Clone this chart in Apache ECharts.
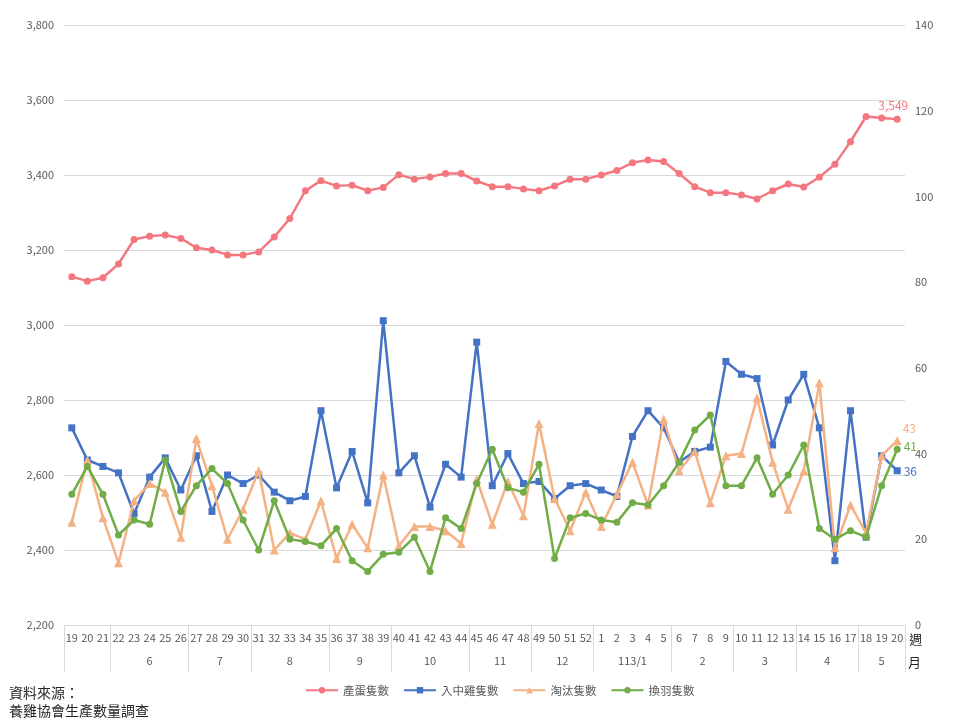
<!DOCTYPE html>
<html lang="zh-TW">
<head>
  <meta charset="UTF-8">
  <title>產蛋、入中雞、淘汰、換羽隻數</title>
  <script src="https://cdn.jsdelivr.net/npm/echarts@6/dist/echarts.min.js"></script>
  <style>
    html, body { margin: 0; padding: 0; width: 100%; height: 100%; background: #fff; }
    #chart { width: 960px; height: 720px; }
  </style>
</head>
<body>
  <div id="chart"></div>
  <script>
    // 週次 (112年第19週 ~ 113年第20週)
    const weeks = ['19','20','21','22','23','24','25','26','27','28','29','30','31','32','33','34','35','36',
      '37','38','39','40','41','42','43','44','45','46','47','48','49','50','51','52',
      '1','2','3','4','5','6','7','8','9','10','11','12','13','14','15','16','17','18','19','20'];
    // 月份分組
    const monthNames = ['', '6', '7', '8', '9', '10', '11', '12', '113/1', '2', '3', '4', '5'];
    const monthSpans = [3, 5, 4, 5, 4, 5, 4, 4, 5, 4, 4, 4, 3];

    // 產蛋隻數 (左軸)
    const eggs = [3129, 3117, 3126, 3163, 3228, 3237, 3240, 3231, 3206, 3200,
      3187, 3187, 3195, 3235, 3284, 3358, 3385, 3371, 3373, 3358,
      3367, 3401, 3389, 3395, 3404, 3404, 3384, 3369, 3369, 3363,
      3358, 3371, 3389, 3389, 3400, 3412, 3433, 3440, 3436, 3404,
      3369, 3353, 3353, 3347, 3336, 3358, 3376, 3368, 3394, 3429,
      3489, 3556, 3552, 3549];
    // 入中雞隻數 (右軸)
    const chicks = [46, 38.5, 37, 35.5, 26, 34.5, 39, 31.5, 39.5, 26.5,
      35, 33, 35, 31, 29, 30, 50, 32, 40.5, 28.5,
      71, 35.5, 39.5, 27.5, 37.5, 34.5, 66, 32.5, 40, 33,
      33.5, 29.5, 32.5, 33, 31.5, 30, 44, 50, 46, 38,
      40.5, 41.5, 61.5, 58.5, 57.5, 42, 52.5, 58.5, 46, 15,
      50, 20.5, 39.5, 36];
    // 淘汰隻數 (右軸)
    const culled = [24, 38.5, 25, 14.5, 29, 33, 31, 20.5, 43.5, 32.5,
      20, 27, 36, 17.5, 21.5, 20, 29, 15.5, 23.5, 18,
      35, 18.5, 23, 23, 22, 19, 34, 23.5, 33.5, 25.5,
      47, 29.5, 22, 31, 23, 30.5, 38, 28, 48, 36,
      40.5, 28.5, 39.5, 40, 53, 38, 27, 36, 56.5, 18,
      28, 21.5, 39.5, 43];
    // 換羽隻數 (右軸)
    const molted = [30.5, 37, 30.5, 21, 24.5, 23.5, 38.5, 26.5, 32.5, 36.5,
      33, 24.5, 17.5, 29, 20, 19.5, 18.5, 22.5, 15, 12.5,
      16.5, 17, 20.5, 12.5, 25, 22.5, 33, 41, 32, 31,
      37.5, 15.5, 25, 26, 24.5, 24, 28.5, 28, 32.5, 38,
      45.5, 49, 32.5, 32.5, 39, 30.5, 35, 42, 22.5, 20,
      22, 20.5, 32.5, 41];

    const chart = echarts.init(document.getElementById('chart'));
    const FONT = '"Noto Sans CJK TC", "Noto Sans", sans-serif';
    const GRAY = '#595959';
    const LINE = '#d9d9d9';

    // 月份軸: 以半週為單位, 分隔線在每組起點, 月份標籤在組中央
    const slotCount = weeks.length * 2 + 1;
    const monthSlots = new Array(slotCount).fill('');
    const tickIdx = new Set();
    const labelIdx = new Set();
    let start = 0;
    monthSpans.forEach((n, k) => {
      tickIdx.add(2 * start);
      monthSlots[2 * start + n] = monthNames[k];
      labelIdx.add(2 * start + n);
      start += n;
    });
    tickIdx.add(2 * start);

    const last = weeks.length - 1;
    const endLabel = (color, offset, position, fmt) => ({
      show: true,
      position: position,
      offset: offset,
      color: color,
      fontSize: 12,
      fontFamily: FONT,
      formatter: p => p.dataIndex === last ? fmt(p.value) : ''
    });

    const option = {
      animation: false,
      backgroundColor: '#fff',
      textStyle: { fontFamily: FONT },
      title: {
        text: '資料來源：\n養雞協會生產數量調查',
        left: 4,
        top: 679,
        textStyle: { fontSize: 14, fontWeight: 'normal', color: '#262626', lineHeight: 18, fontFamily: FONT }
      },
      legend: {
        bottom: 19,
        left: 300,
        itemWidth: 32,
        itemHeight: 8,
        itemGap: 14,
        textStyle: { color: GRAY, fontSize: 11.5, fontFamily: FONT },
        data: ['產蛋隻數', '入中雞隻數', '淘汰隻數', '換羽隻數']
      },
      grid: { left: 64, right: 55, top: 25, bottom: 95 },
      xAxis: [
        {
          type: 'category',
          position: 'bottom',
          data: weeks.map((w, i) => String(i)),
          boundaryGap: true,
          axisLine: { lineStyle: { color: LINE } },
          axisTick: { show: false },
          axisLabel: {
            interval: 0, margin: 7, color: GRAY, fontSize: 11, fontFamily: FONT,
            formatter: (v, i) => weeks[i]
          },
          name: '週',
          nameLocation: 'end',
          nameGap: 3,
          nameTextStyle: { color: '#262626', fontSize: 13, verticalAlign: 'top', padding: [8, 0, 0, 0] }
        },
        {
          type: 'category',
          position: 'bottom',
          data: monthSlots.map((m, i) => String(i)),
          boundaryGap: false,
          axisLine: { show: false },
          axisTick: {
            show: true, length: 47, interval: i => tickIdx.has(i),
            lineStyle: { color: LINE }
          },
          axisLabel: {
            margin: 30, color: GRAY, fontSize: 11, fontFamily: FONT,
            interval: i => labelIdx.has(i),
            formatter: (v, i) => monthSlots[i]
          },
          name: '月',
          nameLocation: 'end',
          nameGap: 3,
          nameTextStyle: { color: '#262626', fontSize: 13, verticalAlign: 'top', padding: [31, 0, 0, 0] }
        }
      ],
      yAxis: [
        {
          type: 'value', min: 2200, max: 3800, interval: 200,
          axisLine: { show: false }, axisTick: { show: false },
          axisLabel: { color: GRAY, fontSize: 11, margin: 10, formatter: v => v.toLocaleString('en-US') },
          splitLine: { lineStyle: { color: LINE } }
        },
        {
          type: 'value', min: 0, max: 140, interval: 20, position: 'right',
          axisLine: { show: false }, axisTick: { show: false },
          axisLabel: { color: GRAY, fontSize: 11, margin: 10 },
          splitLine: { show: false }
        }
      ],
      series: [
        {
          name: '產蛋隻數', type: 'line', xAxisIndex: 0, yAxisIndex: 0,
          data: eggs, symbol: 'circle', symbolSize: 7,
          itemStyle: { color: '#F4777F' }, lineStyle: { width: 2.5, color: '#F4777F' },
          label: endLabel('#F4777F', [-4, 1], 'top', v => v.toLocaleString('en-US')),
          z: 3
        },
        {
          name: '入中雞隻數', type: 'line', xAxisIndex: 0, yAxisIndex: 1,
          data: chicks, symbol: 'rect', symbolSize: 7,
          itemStyle: { color: '#4472C4' }, lineStyle: { width: 2.5, color: '#4472C4' },
          label: endLabel('#4472C4', [-2, 1], 'right', v => Math.round(v)),
          z: 3
        },
        {
          name: '淘汰隻數', type: 'line', xAxisIndex: 0, yAxisIndex: 1,
          data: culled, symbol: 'triangle', symbolSize: 9,
          itemStyle: { color: '#F4B183' }, lineStyle: { width: 2.5, color: '#F4B183' },
          label: endLabel('#F4B183', [-4, -12], 'right', v => Math.round(v)),
          z: 4
        },
        {
          name: '換羽隻數', type: 'line', xAxisIndex: 0, yAxisIndex: 1,
          data: molted, symbol: 'circle', symbolSize: 7,
          itemStyle: { color: '#70AD47' }, lineStyle: { width: 2.5, color: '#70AD47' },
          label: endLabel('#70AD47', [-2, -3], 'right', v => Math.round(v)),
          z: 5
        }
      ]
    };

    chart.setOption(option);
    window.addEventListener('resize', () => chart.resize());
  </script>
</body>
</html>
